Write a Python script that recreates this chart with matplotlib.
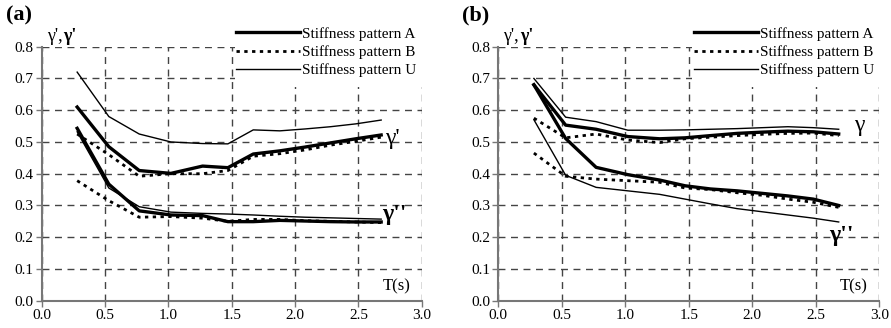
import matplotlib
matplotlib.use("Agg")
import matplotlib.pyplot as plt
from matplotlib.patches import Rectangle

plt.rcParams['font.family'] = 'serif'
plt.rcParams['font.serif'] = ['Liberation Serif', 'DejaVu Serif']

T = [0.28, 0.53, 0.77, 1.02, 1.27, 1.47, 1.67, 1.88, 2.08, 2.28, 2.48, 2.68]

# Panel (a)
a_upper_A = [0.610, 0.485, 0.410, 0.401, 0.424, 0.419, 0.462, 0.472, 0.484, 0.497, 0.510, 0.522]
a_upper_B = [0.525, 0.460, 0.392, 0.400, 0.400, 0.410, 0.455, 0.463, 0.475, 0.490, 0.502, 0.515]
a_upper_U = [0.720, 0.580, 0.525, 0.500, 0.495, 0.494, 0.538, 0.535, 0.541, 0.548, 0.557, 0.569]
a_lower_A = [0.543, 0.367, 0.283, 0.270, 0.268, 0.249, 0.249, 0.253, 0.251, 0.249, 0.248, 0.248]
a_lower_B = [0.378, 0.315, 0.263, 0.265, 0.260, 0.250, 0.256, 0.256, 0.252, 0.250, 0.248, 0.246]
a_lower_U = [0.532, 0.355, 0.296, 0.279, 0.275, 0.273, 0.270, 0.266, 0.263, 0.261, 0.259, 0.257]

# Panel (b)
b_upper_A = [0.680, 0.553, 0.540, 0.517, 0.510, 0.513, 0.520, 0.527, 0.531, 0.534, 0.532, 0.525]
b_upper_B = [0.575, 0.513, 0.525, 0.506, 0.498, 0.510, 0.515, 0.520, 0.524, 0.527, 0.528, 0.520]
b_upper_U = [0.700, 0.578, 0.564, 0.537, 0.537, 0.538, 0.540, 0.542, 0.545, 0.548, 0.545, 0.540]
b_lower_A = [0.680, 0.511, 0.420, 0.397, 0.380, 0.362, 0.352, 0.346, 0.338, 0.330, 0.320, 0.300]
b_lower_B = [0.465, 0.392, 0.383, 0.378, 0.373, 0.355, 0.350, 0.340, 0.332, 0.320, 0.310, 0.294]
b_lower_U = [0.570, 0.395, 0.357, 0.346, 0.335, 0.320, 0.305, 0.290, 0.280, 0.270, 0.260, 0.248]

legend_labels = ["Stiffness pattern A", "Stiffness pattern B", "Stiffness pattern U"]
xticks = [0.0, 0.5, 1.0, 1.5, 2.0, 2.5, 3.0]
yticks = [0.0, 0.1, 0.2, 0.3, 0.4, 0.5, 0.6, 0.7, 0.8]

fig = plt.figure(figsize=(8.91, 3.28), dpi=100)
ax_a = fig.add_axes([0.0468, 0.0832, 0.4265, 0.7744])
ax_b = fig.add_axes([0.5593, 0.0832, 0.4276, 0.7744])

styles = {
    'A': dict(color='black', lw=2.4, ls='-'),
    'B': dict(color='black', lw=2.0, ls=(0, (1.2, 1.6))),
    'U': dict(color='black', lw=1.0, ls='-'),
}

def setup(ax, panel, upper, lower, up_label, up_pos, low_pos):
    ax.set_xlim(0, 3.0)
    ax.set_ylim(0, 0.8)
    ax.set_xticks(xticks)
    ax.set_yticks(yticks)
    ax.set_xticklabels([f"{v:.1f}" for v in xticks])
    ax.set_yticklabels([f"{v:.1f}" for v in yticks])
    ax.tick_params(direction='out', length=4, width=1, color='#777777', labelsize=11, pad=2)
    ax.grid(True, ls=(0, (5, 4)), color='#444444', lw=1.0)
    ax.set_axisbelow(True)
    for s in ['top', 'right']:
        ax.spines[s].set_visible(False)
    for s in ['left', 'bottom']:
        ax.spines[s].set_color('#777777')
        ax.spines[s].set_linewidth(1.5)
    ax.add_patch(Rectangle((0.508, 0.84), 0.51, 0.2, transform=ax.transAxes,
                           facecolor='white', edgecolor='none', zorder=1.5, clip_on=False))
    handles = []
    for key, y in zip(['A', 'B', 'U'], upper):
        h, = ax.plot(T, y, zorder=3, **styles[key])
        handles.append(h)
    for key, y in zip(['A', 'B', 'U'], lower):
        ax.plot(T, y, zorder=3, **styles[key])
    leg = ax.legend(handles, legend_labels, loc='upper right', bbox_to_anchor=(1.015, 1.12),
                    frameon=False, fontsize=11, handlelength=4.2, handletextpad=0.15,
                    labelspacing=0.3, borderpad=0.2)
    leg.set_zorder(5)
    ax.text(up_pos[0], up_pos[1], up_label, fontsize=17, ha='center', va='center', zorder=4)
    ax.text(low_pos[0], low_pos[1], "γ''", fontsize=17, fontweight='bold', ha='center', va='center', zorder=4)
    ax.text(2.8, 0.046, "T(s)", fontsize=12, ha='center', va='center', zorder=4)
    ax.text(0.04, 0.805, "γ',", fontsize=13, ha='left', va='bottom', zorder=4)
    ax.text(0.17, 0.805, "γ'", fontsize=13, fontweight='bold', ha='left', va='bottom', zorder=4)
    ax.text(-0.095, 1.085, panel, transform=ax.transAxes, fontsize=16, fontweight='bold',
            ha='left', va='bottom')

setup(ax_a, "(a)", [a_upper_A, a_upper_B, a_upper_U], [a_lower_A, a_lower_B, a_lower_U],
      "γ'", (2.77, 0.512), (2.78, 0.27))
setup(ax_b, "(b)", [b_upper_A, b_upper_B, b_upper_U], [b_lower_A, b_lower_B, b_lower_U],
      "γ", (2.84, 0.553), (2.70, 0.205))

fig.savefig("out.png", dpi=100)
